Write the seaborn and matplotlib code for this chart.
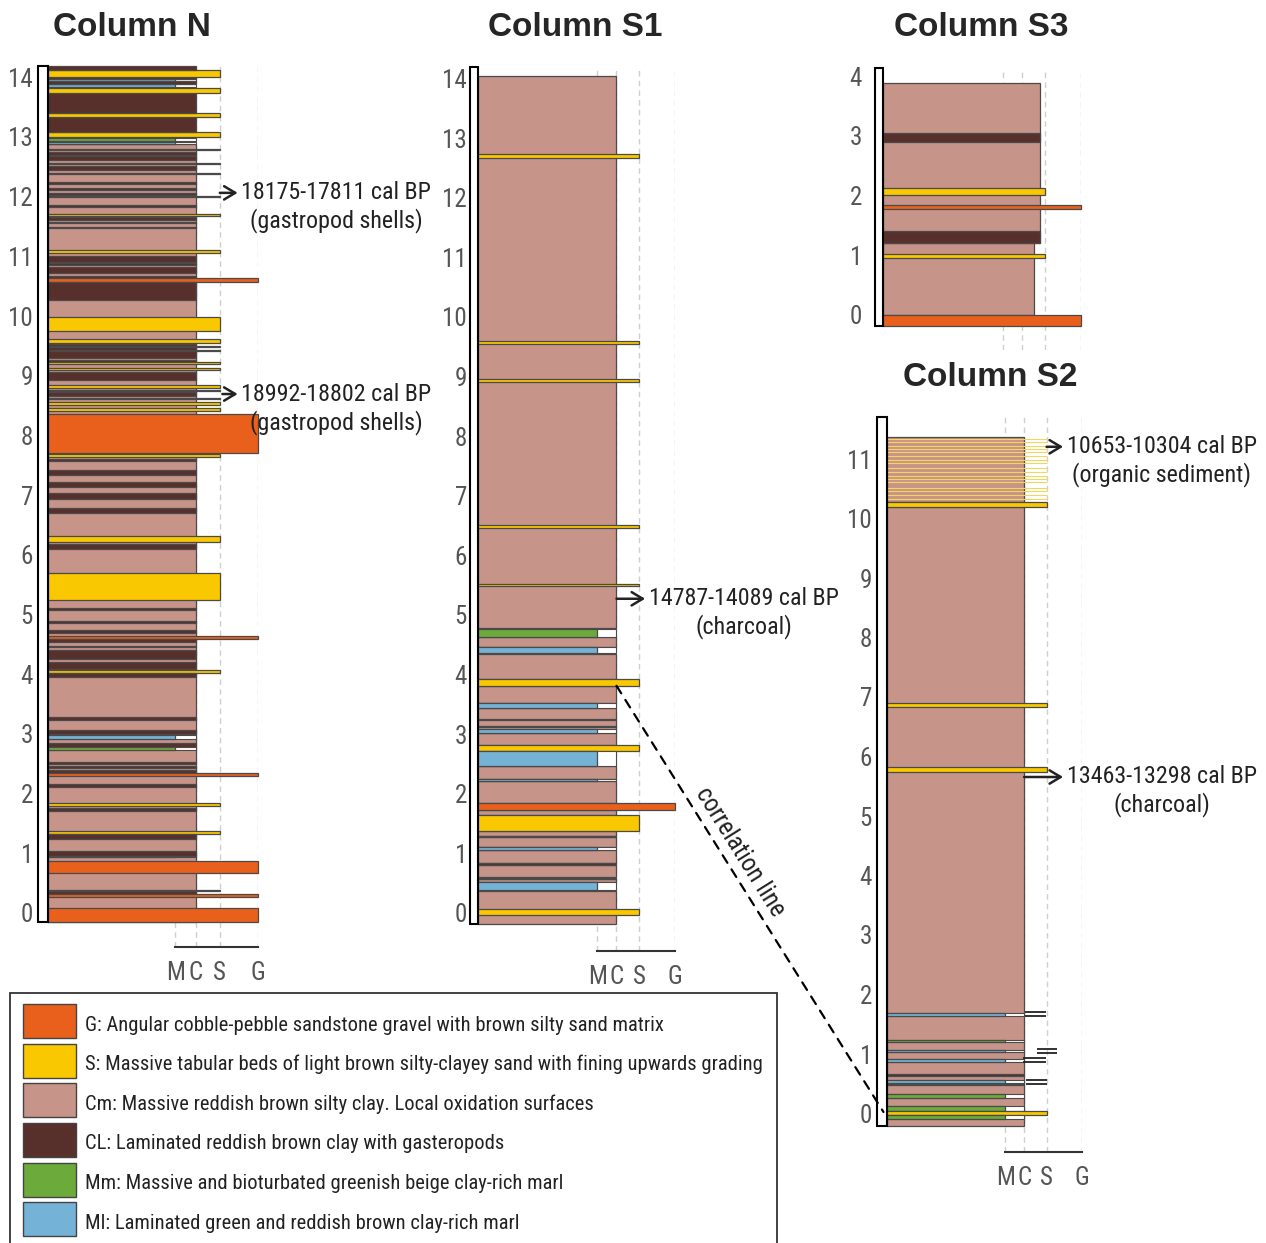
import numpy as np
import matplotlib
matplotlib.use('Agg')
import matplotlib.pyplot as plt
from matplotlib import font_manager as fm
from matplotlib.patches import Patch, Rectangle, ConnectionPatch
from matplotlib.legend_handler import HandlerPatch
from matplotlib.transforms import ScaledTranslation
import seaborn as sns

# lithofacies, legend order
lith_codes = ['G', 'S', 'Cm', 'CL', 'Mm', 'Ml']
lith_labels = [
    'G: Angular cobble-pebble sandstone gravel with brown silty sand matrix',
    'S: Massive tabular beds of light brown silty-clayey sand with fining upwards grading',
    'Cm: Massive reddish brown silty clay. Local oxidation surfaces',
    'CL: Laminated reddish brown clay with gasteropods',
    'Mm: Massive and bioturbated greenish beige clay-rich marl',
    'Ml: Laminated green and reddish brown clay-rich marl',
]
lith_colors = ['#e8601c', '#f9c800', '#c69488', '#57302b', '#6cab3b', '#74b2d6']
lith_grain = {'G': 'G', 'S': 'S', 'Cm': 'C', 'CL': 'C', 'Mm': 'M', 'Ml': 'M'}

grain_sizes = ['M', 'C', 'S', 'G']
grain_pos = [1.0, 1.16, 1.35, 1.65]

# beds: (bottom m, top m, lithofacies[, grain size])
N_beds = [
    (-0.03, 13.00, 'Cm'),
    (13.00, 13.04, 'Ml'), (13.05, 13.10, 'Mm'), (13.11, 13.20, 'S'), (13.20, 13.45, 'CL'),
    (13.45, 13.51, 'S'), (13.51, 13.86, 'CL'), (13.86, 13.93, 'S'), (13.96, 14.00, 'Ml'),
    (14.00, 14.06, 'CL'), (14.06, 14.08, 'Ml'), (14.08, 14.12, 'CL'), (14.12, 14.24, 'S'),
    (14.24, 14.31, 'CL'),
    (12.90, 12.92, 'S'), (12.81, 12.87, 'CL'), (12.73, 12.79, 'CL'), (12.66, 12.68, 'S'),
    (12.57, 12.63, 'CL'), (12.50, 12.52, 'S'), (12.33, 12.37, 'CL'), (12.22, 12.26, 'CL'),
    (12.15, 12.17, 'CL'), (12.11, 12.13, 'S'), (11.94, 11.98, 'CL'), (11.80, 11.82, 'S'),
    (11.73, 11.78, 'CL'), (11.67, 11.70, 'CL'), (11.59, 11.61, 'CL'), (11.18, 11.23, 'S'),
    (11.03, 11.12, 'CL'), (10.97, 11.00, 'CL'), (10.84, 10.93, 'CL'), (10.75, 10.79, 'CL'),
    (10.69, 10.75, 'G'), (10.39, 10.68, 'CL'),
    (9.87, 10.10, 'S'), (9.66, 9.74, 'S'), (9.41, 9.65, 'CL'), (9.59, 9.61, 'S'),
    (9.53, 9.55, 'S'), (9.35, 9.38, 'CL'), (9.32, 9.34, 'S'), (9.22, 9.25, 'S'),
    (9.05, 9.18, 'CL'), (8.91, 8.96, 'S'), (8.86, 8.88, 'S'), (8.77, 8.85, 'CL'),
    (8.72, 8.75, 'S'), (8.63, 8.67, 'S'), (8.53, 8.57, 'S'), (7.83, 8.47, 'G'),
    (7.76, 7.80, 'S'), (7.69, 7.73, 'CL'), (7.45, 7.53, 'CL'), (7.26, 7.34, 'CL'),
    (7.05, 7.15, 'CL'), (6.81, 6.90, 'CL'), (6.34, 6.43, 'S'), (6.22, 6.29, 'CL'),
    (5.36, 5.81, 'S'), (5.19, 5.23, 'CL'), (4.97, 5.01, 'CL'), (4.81, 4.86, 'CL'),
    (4.70, 4.76, 'G'), (4.66, 4.70, 'CL'), (4.57, 4.59, 'CL'), (4.38, 4.52, 'CL'),
    (4.20, 4.32, 'CL'), (4.13, 4.19, 'S'), (4.07, 4.13, 'CL'), (3.35, 3.40, 'CL'),
    (3.12, 3.18, 'CL'), (3.04, 3.10, 'Ml'), (2.90, 2.97, 'CL'), (2.84, 2.89, 'Mm'),
    (2.61, 2.65, 'CL'), (2.54, 2.58, 'CL'), (2.46, 2.51, 'CL'), (2.41, 2.46, 'G'),
    (2.23, 2.27, 'CL'), (1.91, 1.96, 'S'), (1.83, 1.88, 'CL'), (1.44, 1.49, 'S'),
    (1.35, 1.44, 'CL'), (1.07, 1.16, 'CL'), (1.05, 1.07, 'Ml'), (0.79, 0.98, 'G'),
    (0.48, 0.51, 'S'), (0.44, 0.48, 'CL'), (0.38, 0.43, 'G'), (-0.03, 0.20, 'G'),
]

S1_beds = [
    (4.90, 14.16, 'Cm'), (12.79, 12.85, 'S'), (9.67, 9.72, 'S'), (9.03, 9.08, 'S'),
    (6.58, 6.62, 'S'), (5.60, 5.63, 'S'),
    (4.74, 4.89, 'Mm'), (4.58, 4.74, 'Cm'), (4.48, 4.58, 'Ml'), (4.04, 4.47, 'Cm'),
    (3.93, 4.04, 'S'), (3.64, 3.93, 'Cm'), (3.56, 3.64, 'Ml'), (3.14, 3.55, 'Cm'),
    (3.36, 3.38, 'CL'), (3.23, 3.25, 'CL'), (3.14, 3.20, 'Ml'), (2.84, 2.94, 'S'),
    (2.94, 3.14, 'Cm'), (2.59, 2.84, 'Ml'), (2.37, 2.59, 'Cm'), (2.34, 2.37, 'Ml'),
    (1.97, 2.34, 'Cm'), (1.85, 1.97, 'G'), (1.76, 1.85, 'Cm'), (1.49, 1.76, 'S'),
    (1.41, 1.49, 'Cm'), (1.39, 1.41, 'CL'), (1.23, 1.39, 'Cm'), (1.17, 1.23, 'Ml'),
    (0.95, 1.17, 'Cm'), (0.93, 0.95, 'CL'), (0.72, 0.93, 'Cm'), (0.69, 0.71, 'CL'),
    (0.63, 0.69, 'Cm'), (0.50, 0.63, 'Ml'), (-0.07, 0.49, 'Cm'), (0.08, 0.18, 'S'),
]

S3_beds = [
    (1.36, 4.03, 'Cm', 1.31), (3.05, 3.20, 'CL', 1.31), (2.16, 2.28, 'S'), (1.92, 2.00, 'G'),
    (1.36, 1.56, 'CL', 1.31), (0.15, 1.36, 'Cm', 1.26), (1.10, 1.17, 'S'), (-0.03, 0.15, 'G'),
]

S2_beds = [
    (10.42, 11.51, 'Cm'), (10.33, 10.41, 'S'), (-0.07, 10.33, 'Cm'), (6.97, 7.03, 'S'),
    (5.88, 5.95, 'S'), (1.78, 1.82, 'Ml'), (1.34, 1.37, 'Mm'), (1.17, 1.20, 'Ml'),
    (1.00, 1.05, 'Ml'), (0.77, 0.79, 'CL'), (0.65, 0.69, 'Ml'), (0.61, 0.63, 'CL'),
    (0.39, 0.46, 'Mm'), (0.18, 0.26, 'Mm'), (0.11, 0.18, 'S'), (0.04, 0.11, 'Mm'),
]
# thin sand streaks in the organic sediment at the top of S2
S2_streaks = [11.47, 11.42, 11.35, 11.31, 11.26, 11.18, 11.12, 11.06, 10.99, 10.92,
              10.85, 10.79, 10.74, 10.64, 10.59, 10.53, 10.47]
# "=" lamination marks beside S2: depth, from, to
S2_marks = [(1.81, 1.17, 1.345), (1.185, 1.27, 1.44), (1.04, 1.15, 1.345), (0.667, 1.18, 1.35)]

# dates: (depth m, grain position arrow starts, date, material)
N_dates = [(12.18, 1.35, '18175-17811 cal BP', '(gastropod shells)'),
           (8.81, 1.37, '18992-18802 cal BP', '(gastropod shells)')]
S1_dates = [(5.39, 1.16, '14787-14089 cal BP', '(charcoal)')]
S2_dates = [(11.34, 1.35, '10653-10304 cal BP', '(organic sediment)'),
            (5.79, 1.16, '13463-13298 cal BP', '(charcoal)')]

corr_s1_depth = 3.93
corr_s2_depth = 0.16


def pick_font(names):
    for n in names:
        try:
            fm.findfont(fm.FontProperties(family=n), fallback_to_default=False)
            return n
        except ValueError:
            pass
    return 'DejaVu Sans'


sns.set_style('white')
narrow = pick_font(['Liberation Sans Narrow', 'Roboto Condensed', 'Arial Narrow', 'Liberation Sans'])
bold = pick_font(['Liberation Sans', 'Arial', 'DejaVu Sans'])
plt.rcParams['font.family'] = [narrow, 'DejaVu Sans']

palette = dict(zip(lith_codes, sns.color_palette(lith_colors)))
grain_x = dict(zip(grain_sizes, grain_pos))
edge = '#4a4a4a'

W, H = 1266, 1243
fig = plt.figure(figsize=(W / 100, H / 100), dpi=100)


def add_column(left, x0, xg, top, y0, ppm, base, nticks, pad, lift=7, scale=True):
    ppx = (xg - x0) / grain_pos[-1]
    xmin = -(x0 - left) / ppx
    ax = fig.add_axes([left / W, 1 - base / H, (xg - left) / W, (base - top) / H])
    ax.set_xlim(xmin, grain_pos[-1])
    ax.set_ylim(-(base - y0) / ppm, (y0 - top) / ppm)
    for s in ax.spines.values():
        s.set_visible(False)
    ax.patch.set_alpha(0)
    ax.vlines(grain_pos, ax.get_ylim()[0], ax.get_ylim()[1], colors='#cfcfcf',
              linestyles=(0, (4, 3)), lw=1, zorder=0)
    ax.set_yticks(range(nticks + 1))
    ax.tick_params(axis='y', direction='in', length=3, width=1.5, color='black',
                   labelcolor='#555555', labelsize=18, pad=pad * 0.72)
    off = ScaledTranslation(0, lift / 100, fig.dpi_scale_trans)
    for lab in ax.get_yticklabels():
        lab.set_transform(lab.get_transform() + off)
    if scale:
        ax.spines['bottom'].set_visible(True)
        ax.spines['bottom'].set_bounds(grain_pos[0], grain_pos[-1])
        ax.spines['bottom'].set_linewidth(1.5)
        ax.spines['bottom'].set_color('#333333')
        ax.set_xticks(grain_pos, grain_sizes)
        ax.tick_params(axis='x', direction='out', length=9, width=1.5, color='#333333',
                       labelcolor='#555555', labelsize=18, pad=1)
    else:
        ax.set_xticks([])
    return ax


def draw_beds(ax, beds):
    ordered = sorted(beds, key=lambda b: b[2] != 'Cm')
    low = min(b[0] for b in beds)
    ytop = ax.get_ylim()[1]
    xmin = ax.get_xlim()[0]
    ax.add_patch(Rectangle((xmin, low), -xmin, ytop - low, facecolor='white',
                           edgecolor='black', lw=1.5, clip_on=False, zorder=3))
    for bed in ordered:
        bottom, top, lith = bed[:3]
        g = bed[3] if len(bed) > 3 else lith_grain[lith]
        width = grain_x.get(g, g)
        if lith in ('Mm', 'Ml'):
            ax.barh(bottom, grain_x['C'], height=top - bottom, align='edge', color='white',
                    edgecolor=edge, linewidth=0.8, clip_on=False, zorder=2)
        ax.barh(bottom, width, height=top - bottom, align='edge', color=palette[lith],
                edgecolor=edge, linewidth=0.9, clip_on=False, zorder=2)


def add_dates(ax, dates, x_text):
    for depth, xs, date, material in dates:
        ax.annotate('', xy=(x_text - 0.03, depth), xytext=(xs, depth),
                    arrowprops=dict(arrowstyle='->,head_length=0.5,head_width=0.3',
                                    color='#222222', lw=1.8, mutation_scale=16,
                                    shrinkA=0, shrinkB=0),
                    annotation_clip=False, zorder=4)
        t1 = ax.text(x_text, depth, date, ha='left', va='center', fontsize=17.3,
                     color='#222222', clip_on=False)
        fig.canvas.draw()
        bb = t1.get_window_extent()
        cx = ax.transData.inverted().transform(((bb.x0 + bb.x1) / 2, 0))[0]
        down = ScaledTranslation(0, -0.28, fig.dpi_scale_trans)
        ax.text(cx, depth, material, ha='center', va='center', fontsize=17.3,
                color='#222222', clip_on=False, transform=ax.transData + down)


axN = add_column(38, 48, 258, 66, 920, 59.7, 947, 14, 5)
axS1 = add_column(470, 478, 675, 67, 920, 59.6, 951, 14, 3)
axS3 = add_column(875, 883, 1081, 68, 324, 59.7, 350, 4, 13, lift=9, scale=False)
axS2 = add_column(877, 887, 1082, 417, 1121.5, 59.5, 1152, 11, 5, lift=8)

draw_beds(axN, N_beds)
draw_beds(axS1, S1_beds)
draw_beds(axS3, S3_beds)
draw_beds(axS2, S2_beds)

axS2.hlines(S2_streaks, 0, grain_x['S'], colors='#f5d55e', lw=0.8, zorder=2.5)
for depth, xa, xb in S2_marks:
    axS2.hlines([depth - 0.035, depth + 0.035], xa, xb, colors='#222222', lw=1.3, zorder=2)

add_dates(axN, N_dates, 1.52)
add_dates(axS1, S1_dates, 1.43)
add_dates(axS2, S2_dates, 1.52)

# titles
for label, x, y in [('Column N', 132, 28), ('Column S1', 575, 28),
                    ('Column S3', 981, 28), ('Column S2', 990, 377)]:
    fig.text(x / W, 1 - y / H, label, ha='center', va='center', fontsize=24,
             fontweight='bold', family=[bold, 'DejaVu Sans'])

# correlation line
con = ConnectionPatch(xyA=(grain_x['C'], corr_s1_depth), coordsA=axS1.transData,
                      xyB=(-0.03, corr_s2_depth), coordsB=axS2.transData,
                      linestyle=(0, (4, 3.5)), color='black', lw=1.6, zorder=5)
fig.add_artist(con)
p1 = axS1.transData.transform((grain_x['C'], corr_s1_depth))
p2 = axS2.transData.transform((-0.03, corr_s2_depth))
ang = np.degrees(np.arctan2(p2[1] - p1[1], p2[0] - p1[0]))
mid = p1 + 0.41 * (p2 - p1)
nrm = np.array([-(p2[1] - p1[1]), p2[0] - p1[0]])
nrm = nrm / np.linalg.norm(nrm)
if nrm[1] < 0:
    nrm = -nrm
pos = mid + 17 * nrm
fig.text(pos[0] / W, pos[1] / H, 'correlation line', rotation=ang, rotation_mode='anchor',
         ha='center', va='center', fontsize=18, color='#222222')


# legend with tall swatches, frame drawn separately (runs off the bottom edge)
def swatch(legend, orig_handle, xdescent, ydescent, width, height, fontsize):
    hh = 24.5
    cy = -ydescent + height / 2 + 1.7
    return Rectangle((-xdescent, cy - hh / 2), width, hh)


handles = [Patch(facecolor=palette[c], edgecolor='#444444', linewidth=1) for c in lith_codes]
leg = fig.legend(handles, lith_labels, loc='upper left', bbox_to_anchor=(23 / W, 1 - 1014.5 / H),
                 bbox_transform=fig.transFigure, borderaxespad=0, frameon=False,
                 fontsize=14.8, handlelength=2.58, handleheight=1.0,
                 labelspacing=0.94, handletextpad=0.45, borderpad=0, labelcolor='#222222',
                 handler_map={Patch: HandlerPatch(patch_func=swatch)})
fig.add_artist(Rectangle((10 / W, -10 / H), 767 / W, (H - 993 + 10) / H,
                         transform=fig.transFigure, fill=False, edgecolor='#333333', lw=1.3))

fig.savefig('out.png', dpi=100)
